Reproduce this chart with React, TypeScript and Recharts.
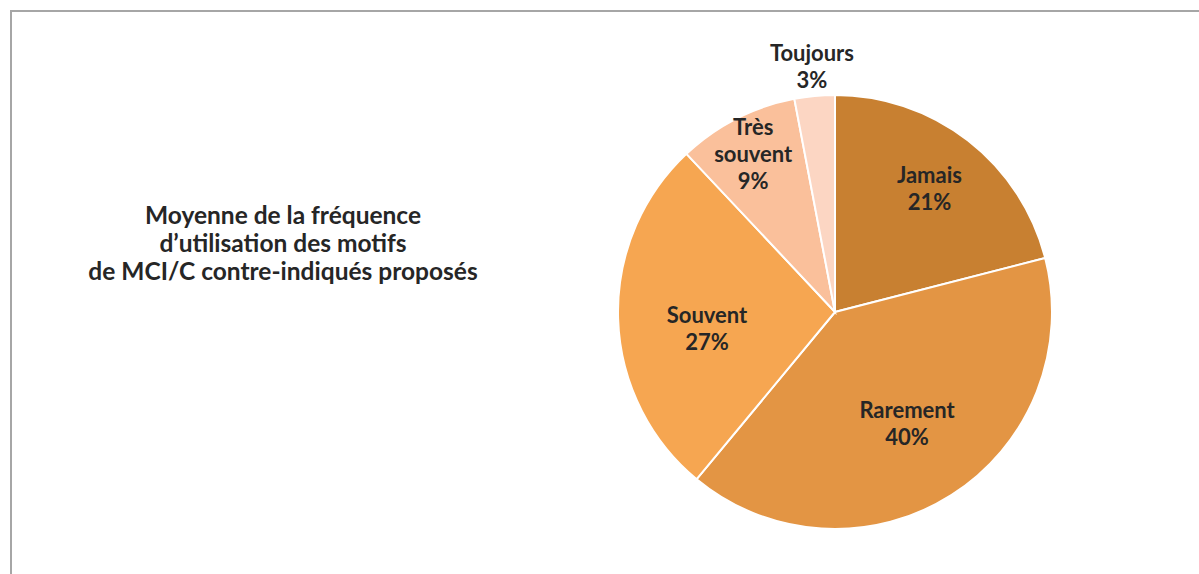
import { Cell, Pie, PieChart } from "recharts";

const categories = ["Jamais", "Rarement", "Souvent", "Très souvent", "Toujours"];
const shares = [21, 40, 27, 9, 3];
const titleLines = [
  "Moyenne de la fréquence",
  "d’utilisation des motifs",
  "de MCI/C contre-indiqués proposés",
];

const colors = ["#C88031", "#E39544", "#F6A651", "#FAC09B", "#FCD6C3"];
// how far out each label sits, as a share of the radius, plus a small vertical nudge
const labelRadius = [0.71, 0.62, 0.59, 0.83, 1.13];
const labelNudge = [-3, -3, 11, 1, -2];

const data = categories.map((name, i) => ({ name, value: shares[i] }));

const FONT = "Lato, 'Open Sans', sans-serif";
const RAD = Math.PI / 180;

function renderLabel(props: any) {
  const { cx, cy, midAngle, outerRadius, index, name, value } = props;
  const r = outerRadius * labelRadius[index];
  const x = cx + r * Math.cos(-midAngle * RAD);
  const y = cy + r * Math.sin(-midAngle * RAD) + labelNudge[index];
  const lines =
    name === "Très souvent" ? ["Très", "souvent", `${value}%`] : [name, `${value}%`];
  const lh = 27;
  const top = y - ((lines.length - 1) * lh) / 2;
  return (
    <text
      x={x}
      y={top}
      textAnchor="middle"
      dominantBaseline="central"
      fill="#262626"
      fontFamily={FONT}
      fontWeight={700}
      fontSize={22}
    >
      {lines.map((l, i) => (
        <tspan key={i} x={x} y={top + i * lh}>
          {l}
        </tspan>
      ))}
    </text>
  );
}

export default function App() {
  return (
    <div style={{ position: "relative", width: 1199, height: 574, background: "#fff" }}>
      <style>{`body{margin:0}`}</style>
      <div
        style={{
          position: "absolute",
          left: 10,
          top: 10,
          width: 1200,
          height: 570,
          borderLeft: "2px solid #a6a6a6",
          borderTop: "2px solid #a6a6a6",
        }}
      />
      <div
        style={{
          position: "absolute",
          left: 33,
          top: 201,
          width: 500,
          textAlign: "center",
          fontFamily: FONT,
          fontWeight: 700,
          fontSize: 24.5,
          lineHeight: "28px",
          color: "#262626",
        }}
      >
        {titleLines.map((t) => (
          <div key={t}>{t}</div>
        ))}
      </div>
      <div style={{ position: "absolute", left: 0, top: 0 }}>
        <PieChart width={1199} height={574}>
          <Pie
            data={data}
            dataKey="value"
            nameKey="name"
            cx={830}
            cy={307}
            outerRadius={217}
            startAngle={90}
            endAngle={-270}
            stroke="#fff"
            strokeWidth={2}
            label={renderLabel}
            labelLine={false}
            isAnimationActive={false}
          >
            {data.map((d, i) => (
              <Cell key={d.name} fill={colors[i]} />
            ))}
          </Pie>
        </PieChart>
      </div>
    </div>
  );
}
